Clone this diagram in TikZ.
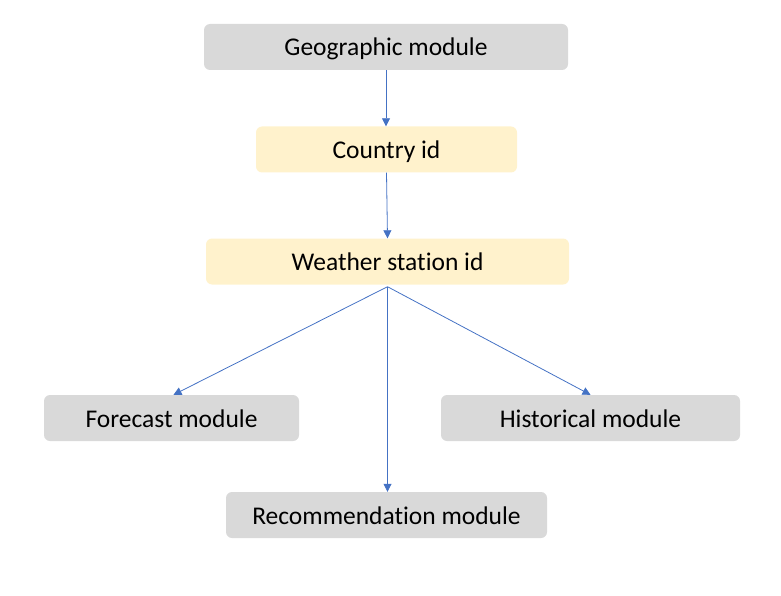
\documentclass[tikz,border=0pt]{standalone}
\usepackage{fontspec}
\setmainfont{Carlito}[Ligatures=NoCommon]
\usepackage{tikz}
\usetikzlibrary{arrows.meta,positioning}
\definecolor{modgray}{HTML}{D9D9D9}
\definecolor{idcream}{HTML}{FFF2CC}
\definecolor{flowblue}{HTML}{4472C4}
\tikzset{
  modbox/.style={fill=modgray,rounded corners=6pt,minimum height=46pt,inner sep=0pt,
    text height=19pt,text depth=1pt,font=\fontsize{25.5}{30}\selectfont},
  idbox/.style={modbox,fill=idcream},
  flow/.style={->,flowblue,line width=0.8pt}
}

\begin{document}
\begin{tikzpicture}[x=1pt,y=-1pt,>={Triangle[length=8pt,width=8pt]}]
  \useasboundingbox (0,0) rectangle (781,596);
  % modules and ids
  \node[modbox,minimum width=364pt] (geo) at (386,47) {Geographic module};
  \node[idbox,minimum width=261pt] (cid) at (386.5,149.5) {Country id};
  \node[idbox,minimum width=363pt] (wsid) at (387.5,261.5) {Weather station id};
  \node[modbox,minimum width=255pt] (fore) at (171.5,418) {Forecast module};
  \node[modbox,minimum width=299pt] (hist) at (590.5,418) {Historical module};
  \node[modbox,minimum width=321pt] (rec) at (386.5,515) {Recommendation module};
  % links
  \coordinate (split) at ([yshift=-2pt]wsid.south);
  \draw[flow] (geo.south) -- (geo.south |- cid.north);
  \draw[flow] (cid.south) -- (wsid.north);
  \draw[flow] (split) -- ([xshift=2pt]fore.north);
  \draw[flow] (split) -- (hist.north);
  \draw[flow] (split) -- (split |- rec.north);
\end{tikzpicture}
\end{document}
